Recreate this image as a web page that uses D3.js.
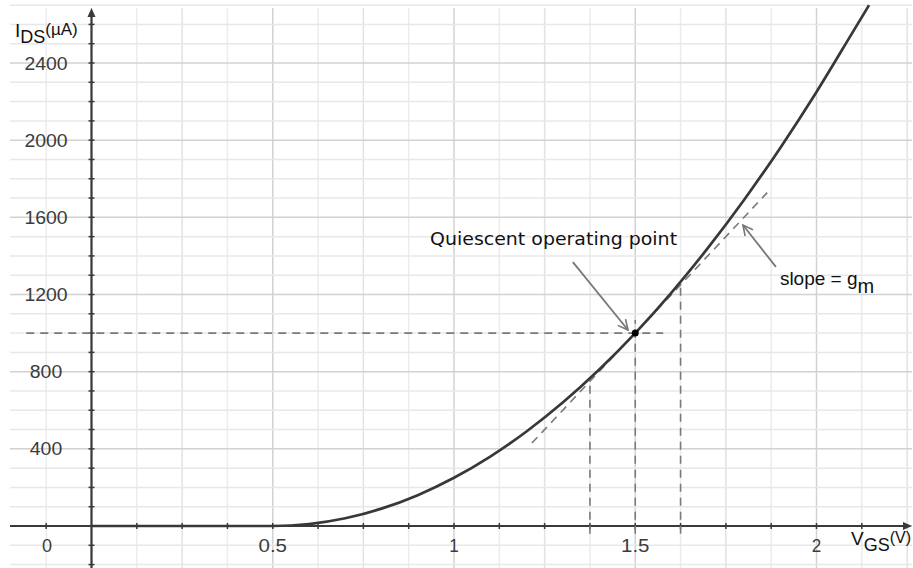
<!DOCTYPE html>
<html>
<head>
<meta charset="utf-8">
<script src="https://cdn.jsdelivr.net/npm/d3@7"></script>
<style>
  html, body { margin: 0; padding: 0; background: #fff; }
  svg { display: block; }
</style>
</head>
<body>
<svg id="chart"></svg>
<script>
const width = 913;
const height = 568;

// transfer curve: V_GS (V) and I_DS (uA)
const vgs = [0, 0.5, 0.55, 0.6, 0.7, 0.8, 0.9, 1.0, 1.1, 1.2, 1.3, 1.4, 1.5, 1.6, 1.7, 1.8, 1.9, 2.0, 2.1, 2.145];
const ids = [0, 0, 2.5, 10, 40, 90, 160, 250, 360, 490, 640, 810, 1000, 1210, 1440, 1690, 1960, 2250, 2560, 2700];

// operating point, tangent and guide lines
const qPoint = { v: 1.5, i: 1000 };
const tangentV = [1.215, 1.864];
const tangentI = [430, 1728];
const guideV = [1.375, 1.5, 1.625];
const guideTop = [766, 1068, 1266];
const guideBottom = -40;
const hGuideV = [-0.18, 1.577];

// tick labels
const xTicks = [0.5, 1, 1.5, 2];
const yTicks = [400, 800, 1200, 1600, 2000, 2400];

const svg = d3.select("#chart").attr("width", width).attr("height", height);

const x = d3.scaleLinear().domain([0, 2]).range([91.5, 816.5]);
const y = d3.scaleLinear().domain([0, 2400]).range([526, 63]);

const edgeL = 10, edgeR = 912, edgeT = 8, edgeB = 568;

// grid
const grid = svg.append("g");
d3.range(-1, 19).forEach((k) => {
  const v = k * 0.125;
  const col = k % 4 === 0 ? "#d2d2d2" : k % 2 === 0 ? "#e2e2e2" : "#ececec";
  grid.append("line")
    .attr("x1", x(v)).attr("x2", x(v))
    .attr("y1", edgeT).attr("y2", edgeB)
    .attr("stroke", col).attr("stroke-width", 1.5);
});
d3.range(-2, 28).forEach((k) => {
  const i = k * 100;
  const col = k % 4 === 0 ? "#d2d2d2" : "#e8e8e8";
  grid.append("line")
    .attr("x1", edgeL).attr("x2", edgeR)
    .attr("y1", y(i)).attr("y2", y(i))
    .attr("stroke", col).attr("stroke-width", 1.5);
});

// axes
const axes = svg.append("g").attr("stroke", "#3a3a3a");
axes.append("line")
  .attr("x1", edgeL).attr("x2", edgeR - 6)
  .attr("y1", y(0)).attr("y2", y(0))
  .attr("stroke-width", 2.2);
axes.append("line")
  .attr("x1", x(0)).attr("x2", x(0))
  .attr("y1", edgeB).attr("y2", edgeT + 6)
  .attr("stroke-width", 2.2);
svg.append("path")
  .attr("d", `M${edgeR},${y(0)} L${edgeR - 9},${y(0) - 4} L${edgeR - 9},${y(0) + 4} Z`)
  .attr("fill", "#3a3a3a");
svg.append("path")
  .attr("d", `M${x(0)},${edgeT} L${x(0) - 4},${edgeT + 9} L${x(0) + 4},${edgeT + 9} Z`)
  .attr("fill", "#3a3a3a");

// small tick marks on the axes
d3.range(-1, 18).forEach((k) => {
  if (k === 0) return;
  axes.append("line")
    .attr("x1", x(k * 0.125)).attr("x2", x(k * 0.125))
    .attr("y1", y(0) - 3).attr("y2", y(0) + 3)
    .attr("stroke-width", 1.5);
});
d3.range(-2, 27).forEach((k) => {
  if (k === 0) return;
  axes.append("line")
    .attr("x1", x(0) - 3).attr("x2", x(0) + 3)
    .attr("y1", y(k * 100)).attr("y2", y(k * 100))
    .attr("stroke-width", 1.5);
});

// tick labels
const lab = svg.append("g")
  .attr("font-family", "Liberation Sans, Arial, sans-serif")
  .attr("font-size", 18)
  .attr("fill", "#3c3c3c")
  .attr("text-anchor", "middle");
yTicks.forEach((t) => {
  lab.append("text")
    .attr("x", 46).attr("y", y(t) + 6.5)
    .attr("textLength", String(t).length * 10.8).attr("lengthAdjust", "spacingAndGlyphs")
    .text(t);
});
xTicks.forEach((t) => {
  const s = String(t);
  lab.append("text")
    .attr("x", x(t)).attr("y", y(0) + 26)
    .attr("textLength", s.length * 9.5).attr("lengthAdjust", "spacingAndGlyphs")
    .text(s);
});
lab.append("text").attr("x", 47).attr("y", y(0) + 26).text("0");

// axis titles
const titles = svg.append("g")
  .attr("font-family", "Liberation Sans, Arial, sans-serif")
  .attr("fill", "#111");
const yt = titles.append("text").attr("x", 15).attr("y", 37);
yt.append("tspan").attr("font-size", 19).text("I");
yt.append("tspan").attr("font-size", 18).attr("dy", 6).text("DS");
yt.append("tspan").attr("font-size", 17).attr("dy", -8).text("(µA)");

const xt = titles.append("text").attr("x", 851).attr("y", 545);
xt.append("tspan").attr("font-size", 19).text("V");
xt.append("tspan").attr("font-size", 18).attr("dy", 6).text("GS");
xt.append("tspan").attr("font-size", 16).attr("dy", -8).text("(V)");

// dashed construction lines
const dash = svg.append("g")
  .attr("stroke", "#7a7a7a").attr("stroke-width", 1.6)
  .attr("stroke-dasharray", "8,6").attr("fill", "none");
dash.append("line")
  .attr("x1", x(tangentV[0])).attr("y1", y(tangentI[0]))
  .attr("x2", x(tangentV[1])).attr("y2", y(tangentI[1]));
guideV.forEach((v, k) => {
  dash.append("line")
    .attr("x1", x(v)).attr("x2", x(v))
    .attr("y1", y(guideBottom)).attr("y2", y(guideTop[k]));
});
dash.append("line")
  .attr("x1", x(hGuideV[0])).attr("x2", x(hGuideV[1]))
  .attr("y1", y(qPoint.i)).attr("y2", y(qPoint.i));

// the curve
const line = d3.line()
  .x((d, k) => x(vgs[k]))
  .y((d, k) => y(ids[k]))
  .curve(d3.curveMonotoneX);
svg.append("path")
  .attr("d", line(vgs))
  .attr("fill", "none")
  .attr("stroke", "#383838")
  .attr("stroke-width", 2.7);

// operating point
svg.append("circle")
  .attr("cx", x(qPoint.v)).attr("cy", y(qPoint.i))
  .attr("r", 3.5).attr("fill", "#000");

// annotations
svg.append("defs").append("marker")
  .attr("id", "head")
  .attr("viewBox", "0 0 12 12")
  .attr("refX", 11).attr("refY", 6)
  .attr("markerWidth", 12).attr("markerHeight", 12)
  .attr("markerUnits", "userSpaceOnUse")
  .attr("orient", "auto")
  .append("path")
  .attr("d", "M1,1 L11,6 L1,11")
  .attr("fill", "none").attr("stroke", "#777").attr("stroke-width", 1.6);

const arrows = [
  { v0: 1.328, i0: 1368, v1: 1.48, i1: 1016 },
  { v0: 1.888, i0: 1343, v1: 1.797, i1: 1560 }
];
arrows.forEach((a) => {
  svg.append("line")
    .attr("x1", x(a.v0)).attr("y1", y(a.i0))
    .attr("x2", x(a.v1)).attr("y2", y(a.i1))
    .attr("stroke", "#777").attr("stroke-width", 1.8)
    .attr("marker-end", "url(#head)");
});

svg.append("text")
  .attr("x", x(0.934)).attr("y", y(1457))
  .attr("font-family", "DejaVu Sans, Verdana, sans-serif")
  .attr("font-size", 18)
  .attr("fill", "#111")
  .attr("textLength", 247).attr("lengthAdjust", "spacingAndGlyphs")
  .text("Quiescent operating point");

const sl = svg.append("text")
  .attr("x", x(1.899)).attr("y", y(1249))
  .attr("font-family", "Liberation Sans, Arial, sans-serif")
  .attr("fill", "#111");
sl.append("tspan").attr("font-size", 19).text("slope = g");
sl.append("tspan").attr("font-size", 20).attr("dy", 8).text("m");
</script>
</body>
</html>
